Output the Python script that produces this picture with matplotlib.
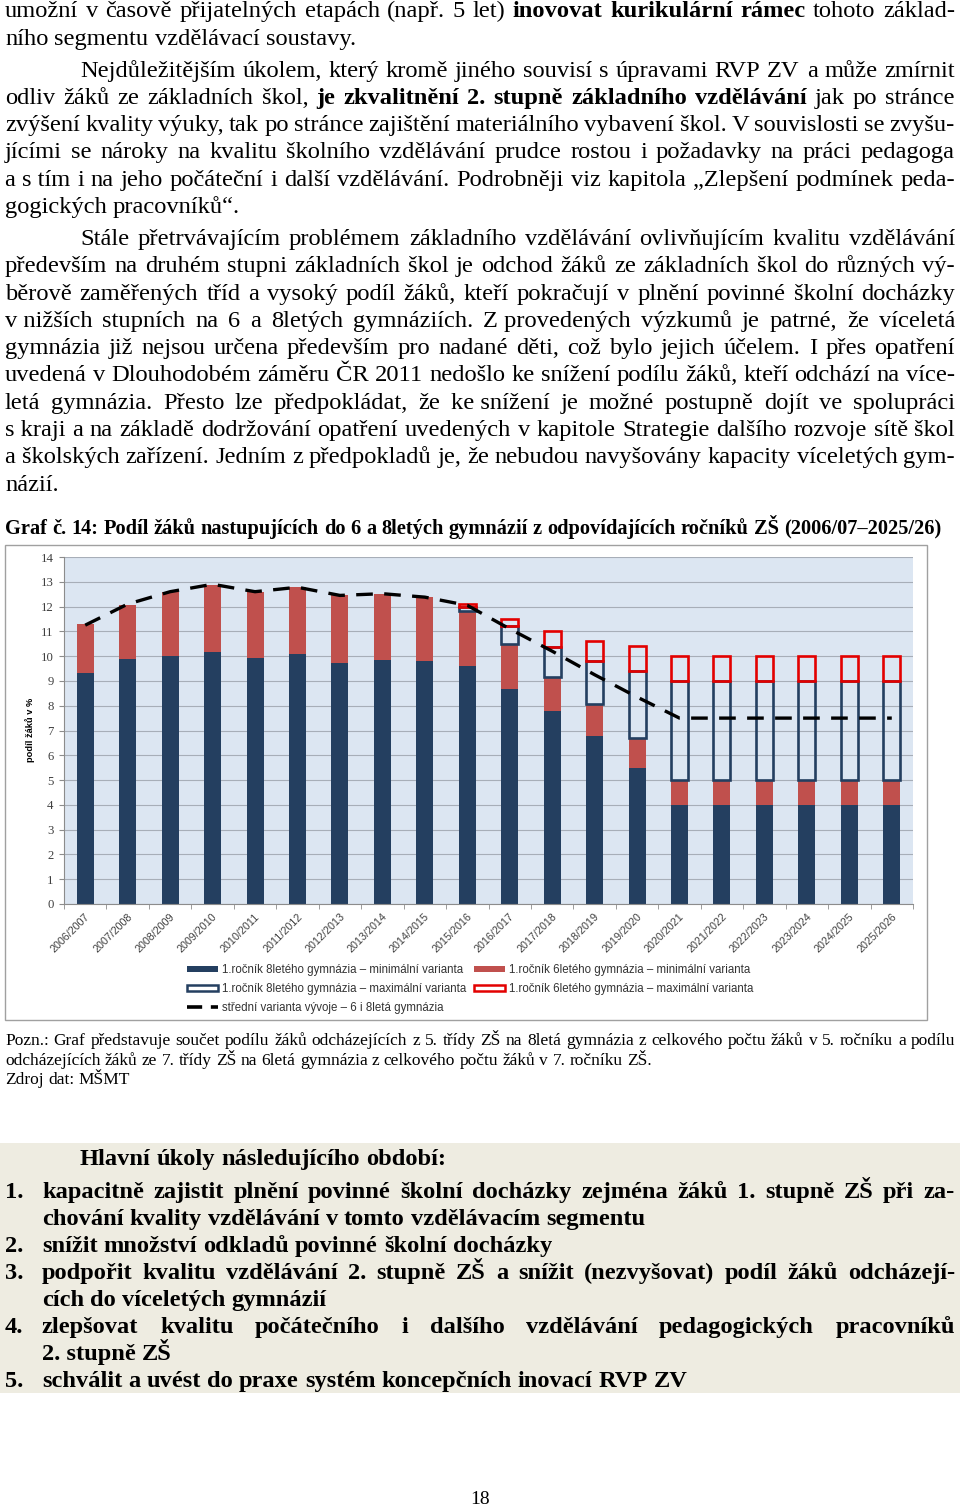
import numpy as np
import matplotlib
matplotlib.use("Agg")
import matplotlib.pyplot as plt
import matplotlib.font_manager as fm
from matplotlib.patches import Rectangle, Patch
from matplotlib.lines import Line2D
from matplotlib.transforms import ScaledTranslation

# ---------------- data ----------------
years = ["2006/2007", "2007/2008", "2008/2009", "2009/2010", "2010/2011",
         "2011/2012", "2012/2013", "2013/2014", "2014/2015", "2015/2016",
         "2016/2017", "2017/2018", "2018/2019", "2019/2020", "2020/2021",
         "2021/2022", "2022/2023", "2023/2024", "2024/2025", "2025/2026"]
min8 = [9.30, 9.87, 10.00, 10.17, 9.93, 10.07, 9.73, 9.84, 9.80, 9.60,
        8.67, 7.77, 6.79, 5.49, 4.0, 4.0, 4.0, 4.0, 4.0, 4.0]
min6 = [1.98, 2.21, 2.58, 2.72, 2.66, 2.70, 2.73, 2.67, 2.59, 2.21,
        1.80, 1.40, 1.28, 1.19, 1.0, 1.0, 1.0, 1.0, 1.0, 1.0]
max8 = [0, 0, 0, 0, 0, 0, 0, 0, 0, 0.16,
        0.74, 1.21, 1.73, 2.72, 4.0, 4.0, 4.0, 4.0, 4.0, 4.0]
max6 = [0, 0, 0, 0, 0, 0, 0, 0, 0, 0.14,
        0.28, 0.63, 0.80, 1.00, 1.0, 1.0, 1.0, 1.0, 1.0, 1.0]
mid = [11.25, 12.10, 12.60, 12.90, 12.60, 12.78, 12.45, 12.52, 12.38, 12.05,
       11.10, 10.20, 9.25, 8.35, 7.50, 7.50, 7.50, 7.50, 7.50, 7.50]
yticks = list(range(0, 15))
legend_labels = ["1.ročník 8letého gymnázia – minimální varianta",
                 "1.ročník 8letého gymnázia – maximální varianta",
                 "střední varianta vývoje – 6 i 8letá gymnázia",
                 "1.ročník 6letého gymnázia – minimální varianta",
                 "1.ročník 6letého gymnázia – maximální varianta"]
ylabel = "podíl žáků v %"
chart_title = ("Graf č. 14: Podíl žáků nastupujících do 6 a 8letých gymnázií "
               "z odpovídajících ročníků ZŠ (2006/07–2025/26)")

paragraphs = [
    ["umožní v časově přijatelných etapách (např. 5 let) **inovovat kurikulární rámec** tohoto základ-",
     "ního segmentu vzdělávací soustavy."],
    ["Nejdůležitějším úkolem, který kromě jiného souvisí s úpravami RVP ZV a může zmírnit",
     "odliv žáků ze základních škol, **je zkvalitnění 2. stupně základního vzdělávání** jak po stránce",
     "zvýšení kvality výuky, tak po stránce zajištění materiálního vybavení škol. V souvislosti se zvyšu-",
     "jícími se nároky na kvalitu školního vzdělávání prudce rostou i požadavky na práci pedagoga",
     "a\u00a0s\u00a0tím i na jeho počáteční i další vzdělávání. Podrobněji viz kapitola „Zlepšení podmínek peda-",
     "gogických pracovníků“."],
    ["Stále přetrvávajícím problémem základního vzdělávání ovlivňujícím kvalitu vzdělávání",
     "především na druhém stupni základních škol je odchod žáků ze základních škol do různých vý-",
     "běrově zaměřených tříd a vysoký podíl žáků, kteří pokračují v plnění povinné školní docházky",
     "v\u00a0nižších stupních na 6 a 8letých gymnáziích. Z\u00a0provedených výzkumů je patrné, že víceletá",
     "gymnázia již nejsou určena především pro nadané děti, což bylo jejich účelem. I přes opatření",
     "uvedená v Dlouhodobém záměru ČR 2011 nedošlo ke snížení podílu žáků, kteří odchází na více-",
     "letá gymnázia. Přesto lze předpokládat, že ke\u00a0snížení je možné postupně dojít ve spolupráci",
     "s\u00a0kraji a na základě dodržování opatření uvedených v kapitole Strategie dalšího rozvoje sítě škol",
     "a\u00a0školských zařízení. Jedním z předpokladů je, že nebudou navyšovány kapacity víceletých gym-",
     "názií."],
]
para_indent = [False, True, True]

note_lines = ["Pozn.: Graf představuje součet podílu žáků odcházejících z 5. třídy ZŠ na 8letá gymnázia z celkového počtu žáků v 5. ročníku a podílu",
              "odcházejících žáků ze 7. třídy ZŠ na 6letá gymnázia z celkového počtu žáků v 7. ročníku ZŠ.",
              "Zdroj dat: MŠMT"]

tasks_heading = "Hlavní úkoly následujícího období:"
tasks = [
    ("1.", ["kapacitně zajistit plnění povinné školní docházky zejména žáků 1. stupně ZŠ při za-",
            "chování kvality vzdělávání v tomto vzdělávacím segmentu"]),
    ("2.", ["snížit množství odkladů povinné školní docházky"]),
    ("3.", ["podpořit kvalitu vzdělávání 2. stupně ZŠ a snížit (nezvyšovat) podíl žáků odcházejí-",
            "cích do víceletých gymnázií"]),
    ("4.", ["zlepšovat kvalitu počátečního i dalšího vzdělávání pedagogických pracovníků",
            "2.\u00a0stupně ZŠ"]),
    ("5.", ["schválit a uvést do praxe systém koncepčních inovací RVP ZV"]),
]
page_number = "18"

# ---------------- setup ----------------
W, H = 960, 1507
fig = plt.figure(figsize=(W / 100, H / 100), dpi=100)
fig.patch.set_facecolor("white")
R = fig.canvas.get_renderer()
names = {f.name for f in fm.fontManager.ttflist}
SERIF = "Liberation Serif"
NARROW = "Liberation Sans Narrow" if "Liberation Sans Narrow" in names else "Liberation Sans"

DARK = "#243F60"
RED = "#C0504D"
BRED = "#E30000"
PLOTBG = "#DCE6F2"


def fx(x):
    return x / W


def fy(y):
    return 1 - y / H


def text_w(s, size, family, weight="normal"):
    t = fig.text(0, 0, s, fontsize=size, family=family, weight=weight)
    w = t.get_window_extent(R).width
    t.remove()
    return w


def fit(s, target, family, weight="normal"):
    return 20.0 * target / text_w(s, 20.0, family, weight)


def parse(line):
    parts = line.split("**")
    words = []
    for i, p in enumerate(parts):
        for w in p.split(" "):
            if w:
                words.append((w, "bold" if i % 2 else "normal"))
    return words


def draw_line(line, y, x0, x1, justify, size, family, weight=None, color="black"):
    words = parse(line)
    E = size * 100 / 72
    base = y + 0.30 * E
    objs, ws = [], []
    for w, wt in words:
        t = fig.text(0, fy(base), w, fontsize=size, family=family,
                     weight=weight or wt, ha="left", va="baseline", color=color)
        objs.append(t)
        ws.append(t.get_window_extent(R).width)
    if justify and len(objs) > 1:
        gap = (x1 - x0 - sum(ws)) / (len(objs) - 1)
    else:
        gap = 0.25 * E
    x = x0
    for t, w in zip(objs, ws):
        t.set_x(fx(x))
        x += w + gap


# ---------------- body text ----------------
body_size = fit("ního segmentu vzdělávací soustavy.", 350, SERIF)
y = 10.0
pitch = 27.3
for pi, para in enumerate(paragraphs):
    if pi > 0:
        y += 4.6
    for li, line in enumerate(para):
        x0 = 80 if (li == 0 and para_indent[pi]) else 5
        draw_line(line, y, x0, 955, li < len(para) - 1, body_size, SERIF)
        y += pitch

# ---------------- chart title ----------------
title_size = fit(chart_title, 933, SERIF, "bold")
draw_line(chart_title, 528, 5, 938, False, title_size, SERIF, weight="bold")

# chart frame
fig.patches.append(Rectangle((fx(5), fy(1020)), (927 - 5) / W, (1020 - 545) / H,
                             transform=fig.transFigure, facecolor="white",
                             edgecolor="#A0A0A0", lw=1.0, zorder=-2))

# ---------------- chart ----------------
ax = fig.add_axes([fx(64), fy(904), 849 / W, 347 / H])
ax.set_facecolor(PLOTBG)
x = np.arange(len(years))
a8, a6, b8, b6 = map(np.array, (min8, min6, max8, max6))
bw = 0.40
ax.bar(x, a8, bw, color=DARK, zorder=2, lw=0)
ax.bar(x, a6, bw, bottom=a8, color=RED, zorder=2, lw=0)
base2 = a8 + a6
m8 = b8 > 0
ax.bar(x[m8], b8[m8], bw, bottom=base2[m8], facecolor="none", edgecolor=DARK,
       lw=1.9, zorder=3)
base3 = base2 + b8
m6 = b6 > 0
ax.bar(x[m6], b6[m6], bw, bottom=base3[m6], facecolor="none", edgecolor=BRED,
       lw=1.9, zorder=4)
ax.plot(x, mid, color="black", lw=2.4, dashes=(5.0, 3.4), zorder=5)

ax.set_xlim(-0.5, len(years) - 0.5)
ax.set_ylim(0, 14)
ax.set_yticks(yticks)
ax.yaxis.grid(True, color="#A7AEB8", lw=0.8)
ax.set_axisbelow(True)
for s in ("top", "right"):
    ax.spines[s].set_visible(False)
for s in ("left", "bottom"):
    ax.spines[s].set_color("#8C8C8C")
    ax.spines[s].set_linewidth(0.8)
ax.tick_params(axis="y", length=3.4, color="#8C8C8C", pad=4, labelsize=9.2,
               labelcolor="#404040")
for lbl in ax.get_yticklabels():
    lbl.set_family(SERIF)

xl_size = fit("2006/2007", 51, NARROW)
ax.set_xticks(x)
ax.set_xticklabels(years, rotation=45, ha="right", va="center",
                   rotation_mode="anchor", fontsize=xl_size, family=NARROW,
                   color="#404040")
ax.tick_params(axis="x", which="major", length=0, pad=8)
ax.set_xticks(np.arange(-0.5, len(years), 1.0), minor=True)
ax.tick_params(axis="x", which="minor", length=3.6, color="#8C8C8C")
off = ScaledTranslation(3 / 100, 0, fig.dpi_scale_trans)
for lbl in ax.get_xticklabels():
    lbl.set_transform(lbl.get_transform() + off)

yl_size = fit(ylabel, 64, NARROW, "bold")
fig.text(fx(30), fy(730), ylabel, rotation=90, ha="center", va="center",
         fontsize=yl_size, family=NARROW, weight="bold", color="black")

# legend
LS = fit(legend_labels[0], 241, NARROW)
Lpx = LS * 100 / 72
handles = [Patch(facecolor=DARK, edgecolor=DARK, lw=0),
           Patch(facecolor="white", edgecolor=DARK, lw=1.8),
           Line2D([], [], color="black", lw=2.6, dashes=(4.2, 2.4)),
           Patch(facecolor=RED, edgecolor=RED, lw=0),
           Patch(facecolor="white", edgecolor=BRED, lw=1.8)]
fig.legend(handles, legend_labels, loc="upper left",
           bbox_to_anchor=(fx(187), fy(964)), ncol=2, frameon=False,
           prop={"family": NARROW, "size": LS}, labelcolor="#333333",
           handlelength=31 / Lpx, handleheight=0.45, handletextpad=4 / Lpx,
           columnspacing=8 / Lpx, labelspacing=0.6, borderpad=0,
           borderaxespad=0)

# ---------------- note ----------------
note_size = fit(note_lines[1], 645, SERIF)
for i, line in enumerate(note_lines):
    draw_line(line, 1040 + i * 19.5, 5, 955, i == 0, note_size, SERIF)

# ---------------- tasks box ----------------
fig.patches.append(Rectangle((0, fy(1393)), 1, (1393 - 1143) / H,
                             transform=fig.transFigure, facecolor="#EEECE1",
                             edgecolor="none", zorder=-2))
task_size = fit(tasks[-1][1][0], 643, SERIF, "bold")
draw_line(tasks_heading, 1158, 80, 955, False, task_size, SERIF, weight="bold")
ty = 1191.0
for num, lines in tasks:
    draw_line(num, ty, 5, 40, False, task_size, SERIF, weight="bold")
    for li, line in enumerate(lines):
        draw_line(line, ty, 42, 955, li < len(lines) - 1, task_size, SERIF, weight="bold")
        ty += 27.0

# page number
fig.text(fx(480), fy(1499), page_number, ha="center", va="center",
         fontsize=14, family=SERIF)

fig.savefig("out.png", dpi=100)
